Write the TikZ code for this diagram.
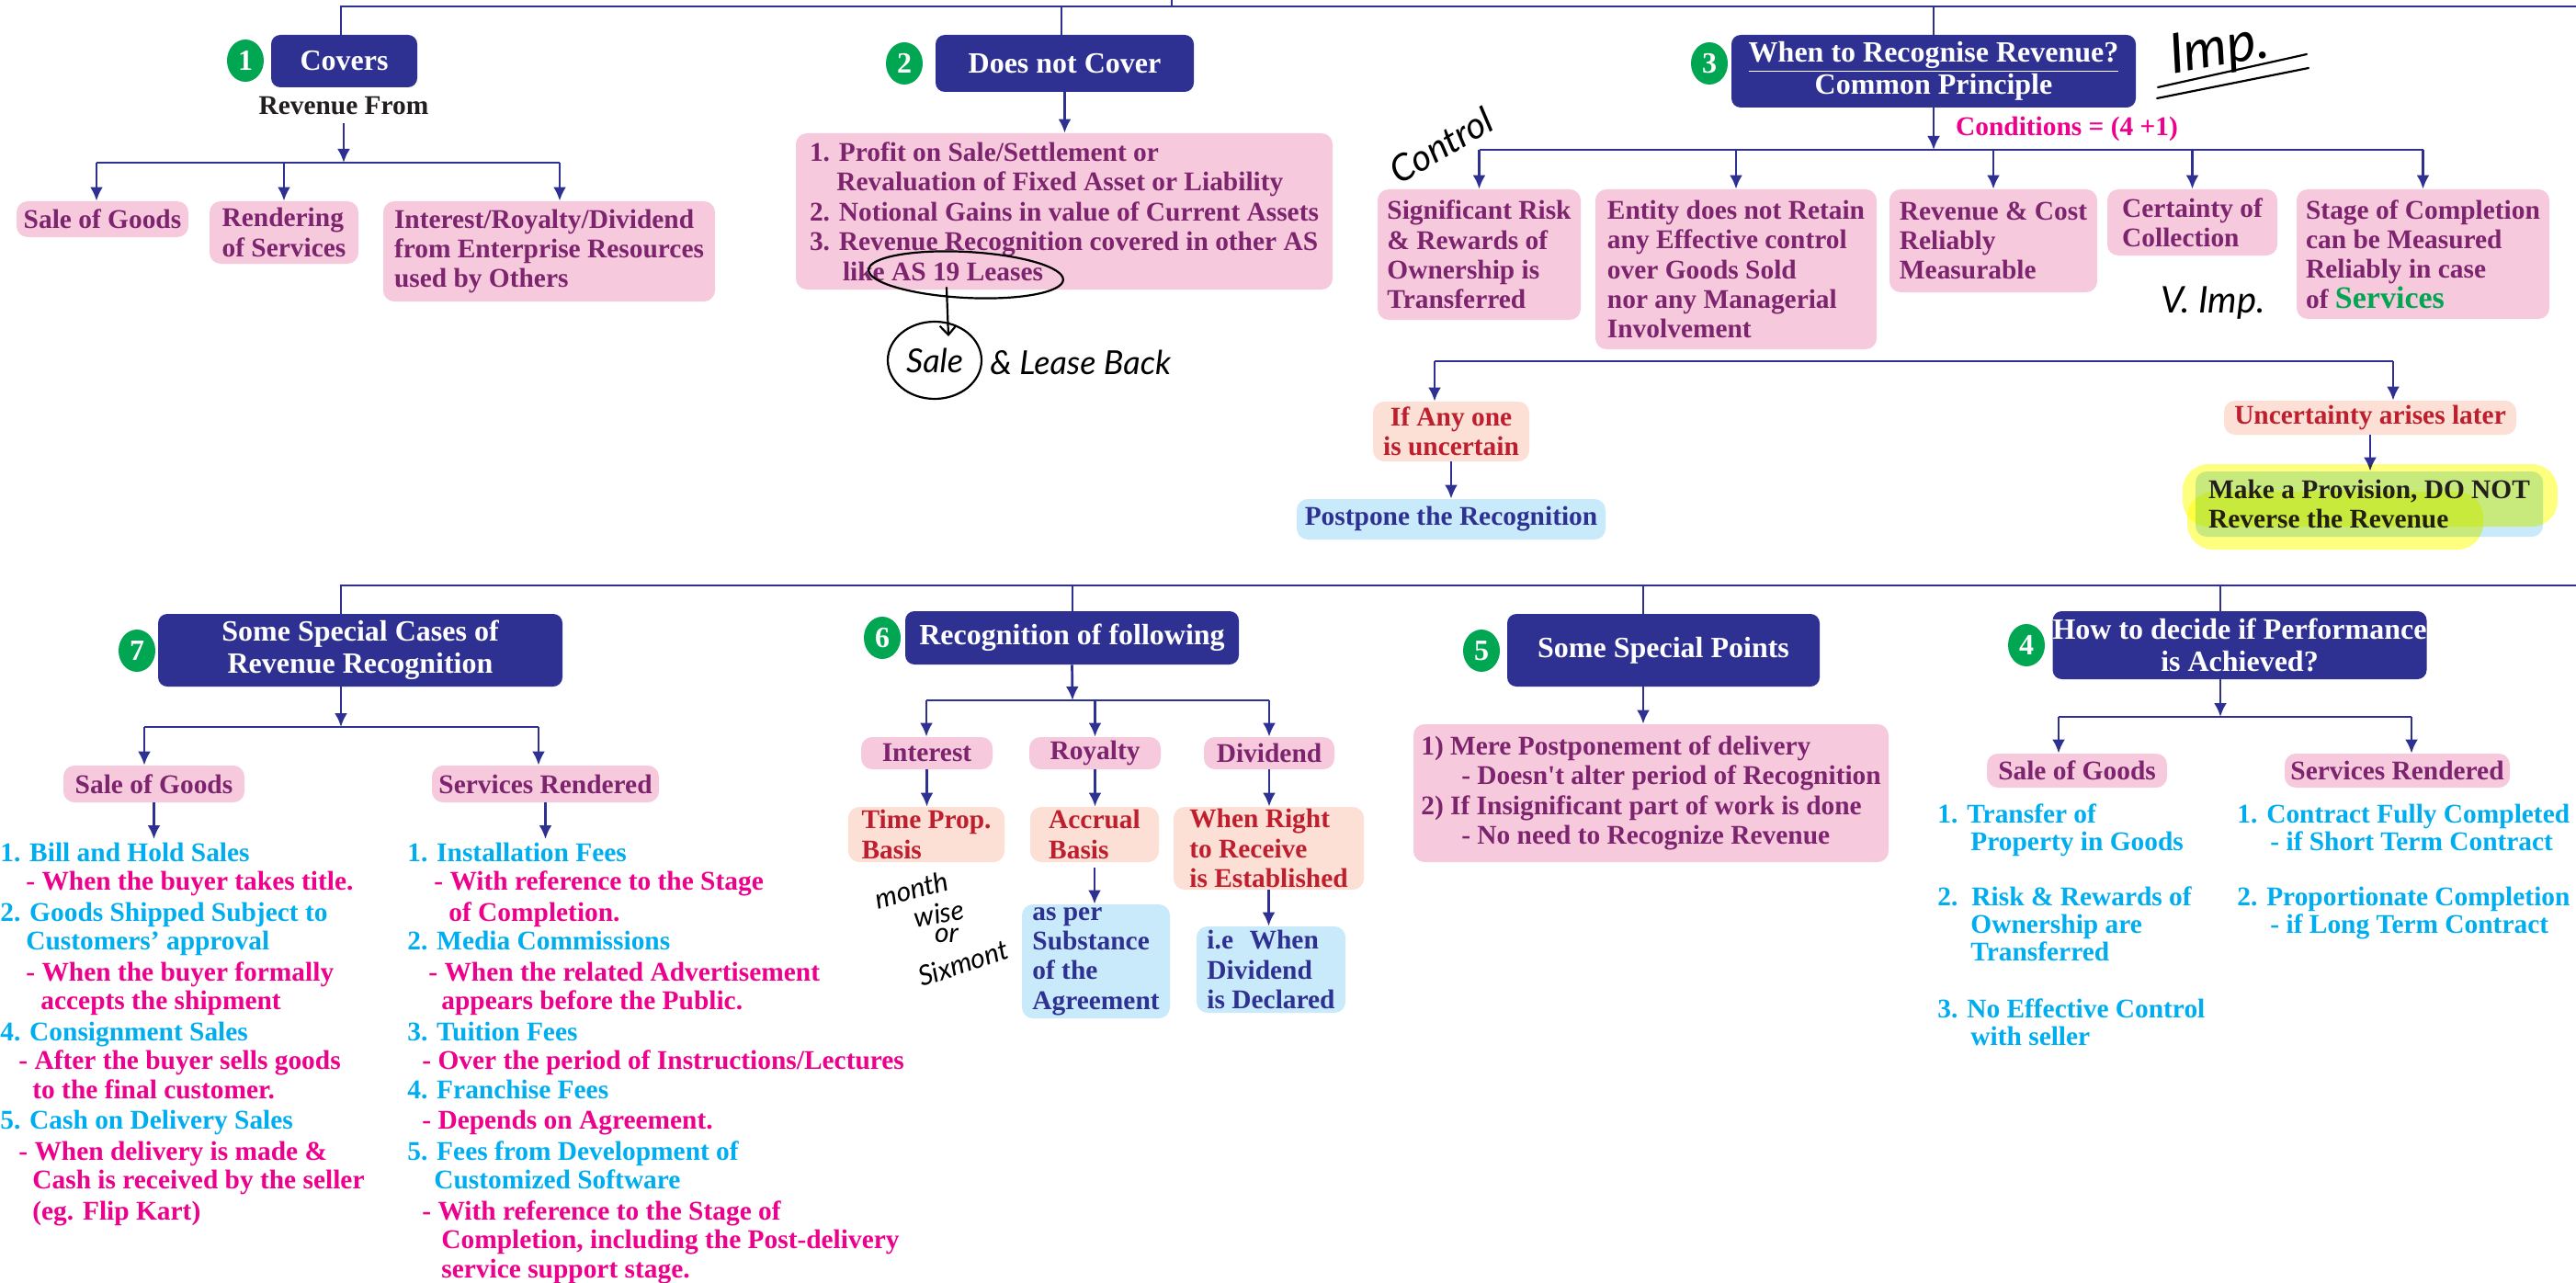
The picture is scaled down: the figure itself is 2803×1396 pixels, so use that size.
\documentclass[tikz,border=0pt]{standalone}
\usepackage{fontspec}
\setmainfont{Liberation Serif}
\newfontfamily\handfont{Lato}
\usetikzlibrary{shapes.geometric,arrows.meta,calc}

\definecolor{hdnavy}{RGB}{46,49,146}
\definecolor{badgegreen}{RGB}{0,166,81}
\definecolor{pinkfill}{RGB}{247,201,221}
\definecolor{pinktext}{RGB}{125,36,110}
\definecolor{salmonfill}{RGB}{252,223,213}
\definecolor{redtext}{RGB}{190,30,45}
\definecolor{bluefill}{RGB}{200,234,250}
\definecolor{cyantext}{RGB}{0,174,239}
\definecolor{magtext}{RGB}{236,0,140}
\definecolor{darktext}{RGB}{35,31,60}
\definecolor{nearblack}{RGB}{35,31,32}
\definecolor{hlyellow}{RGB}{255,255,0}

\tikzset{
  txt/.style={font=\bfseries\fontsize{14.7}{16.2}\selectfont, inner sep=0pt},
  hdbox/.style={txt, font=\bfseries\fontsize{16}{17.6}\selectfont, fill=hdnavy, text=white, rounded corners=5pt, align=center},
  pkbox/.style={txt, fill=pinkfill, text=pinktext, rounded corners=6pt, align=left},
  smbox/.style={txt, fill=salmonfill, text=redtext, rounded corners=6pt, align=left},
  blbox/.style={txt, fill=bluefill, text=hdnavy, rounded corners=6pt, align=left},
  numbadge/.style={ellipse, fill=badgegreen, text=white, inner sep=0pt, minimum width=20pt, minimum height=23pt, font=\bfseries\fontsize{16}{16}\selectfont},
  lnk/.style={draw=hdnavy, line width=1.35pt},
  flow/.style={lnk, -{Latex[length=7.5pt,width=7pt]}},
  lstline/.style={txt, anchor=base west},
  handtxt/.style={inner sep=0pt, text=black, font=\handfont\itshape\fontsize{#1}{#1}\selectfont},
  handtxt/.default=18,
  inkline/.style={draw=black, line width=1.1pt, line cap=round, line join=round},
  inkring/.style={ellipse, draw=black, line width=1.1pt, inner sep=0pt},
}

% box from its corners (x1,y1)-(x2,y2): name, style, x1, y1, x2, y2, text
\newcommand\mkbox[7]{%
  \pgfmathsetmacro\bxw{0.5*(#5-#3)}%
  \pgfmathsetmacro\bxh{0.5*(#6-#4)}%
  \node[#2, minimum width=\bxw pt, minimum height=\bxh pt] (#1) at ({(#3+#5)/2},{(#4+#6)/2}) {#7};%
}
% one line of a list: name, x, baseline y, colour, text
\newcommand\lstat[5]{\node[lstline, text=#4] (#1) at (#2,#3) {#5};}

\begin{document}
\begin{tikzpicture}[x=0.5pt,y=-0.5pt]
\useasboundingbox (0,0) rectangle (2803,1396);
\fill[white] (0,0) rectangle (2803,1396);

% ================= upper row =================
\coordinate (topL) at (371,7);
\coordinate (topR) at (2803,7);
\coordinate (topUp) at (1275,0);
\coordinate (top2) at (1155,7);
\coordinate (top3) at (2104,7);

% ---- 1: Covers ----
\mkbox{cov}{hdbox}{295}{38}{454}{95}{Covers}
\node[numbadge] (n1) at (267,66) {1};
\node[txt, text=nearblack, anchor=base] (revfrom) at (374,125) {Revenue From};
\coordinate (b1L) at (105,177);
\coordinate (b1R) at (609,177);
\mkbox{sg1}{pkbox}{18}{219}{205}{258}{Sale of Goods}
\mkbox{rs1}{pkbox}{228}{219}{390}{287}{Rendering\\of Services}
\mkbox{irs}{pkbox}{417}{219}{778}{328}{Interest/Royalty/Dividend\\from Enterprise Resources\\used by Others}

\draw[lnk] (topR) -- (topL) -- (topL |- cov.north);
\draw[lnk] (topUp) -- (topUp |- topL);
\draw[flow] ([yshift=-4pt]revfrom.south) -- (revfrom.south |- b1L);
\draw[lnk] (b1L) -- (b1R);
\draw[flow] (b1L) -- (b1L |- sg1.north);
\draw[flow] (rs1.north |- b1L) -- (rs1.north);
\draw[flow] (b1R) -- (b1R |- irs.north);

% ---- 2: Does not Cover ----
\mkbox{dnc}{hdbox}{1018}{38}{1299}{100}{Does not Cover}
\node[numbadge] (n2) at (984,69) {2};
\mkbox{nc}{pkbox}{866}{145}{1450}{315}{1. Profit on Sale/Settlement or\\\hspace*{14.7pt}Revaluation of Fixed Asset or Liability\\2. Notional Gains in value of Current Assets\\3. Revenue Recognition covered in other AS\\\hspace*{18pt}like AS 19 Leases}
\draw[lnk] (top2) -- (top2 |- dnc.north);
\draw[flow] (dnc.south) -- (dnc.south |- nc.north);

% hand notes on 2
\node[inkring, rotate=-3, minimum width=106pt, minimum height=25pt] (asring) at (1051,299) {};
\node[inkring, minimum width=51pt, minimum height=42pt] (salering) at (1017,392) {};
\node[handtxt=18] (saletxt) at (1017,392) {Sale};
\node[handtxt=18, anchor=base west] (leaseback) at (1077,407) {\& Lease Back};
\coordinate (asfoot) at (1030,313);
\coordinate (astip) at (1032,366);
\draw[inkline, -{Straight Barb[length=5pt,width=9pt]}] (asfoot) -- (astip);

% ---- 3: When to recognise ----
\mkbox{wtr}{hdbox}{1884}{38}{2324}{117}{\underline{When to Recognise Revenue?}\\Common Principle}
\node[numbadge] (n3) at (1860,69) {3};
\draw[lnk] (top3) -- (top3 |- wtr.north);
\coordinate (b3) at (2104,163);
\node[txt, text=magtext, anchor=base] (cond) at (2249,148) {Conditions = (4 +1)};
\mkbox{c1}{pkbox}{1499}{206}{1720}{348}{Significant Risk\\\& Rewards of\\Ownership is\\Transferred}
\mkbox{c2}{pkbox}{1736}{206}{2042}{380}{Entity does not Retain\\any Effective control\\over Goods Sold\\nor any Managerial\\Involvement}
\mkbox{c3}{pkbox}{2056}{206}{2282}{318}{Revenue \& Cost\\Reliably\\Measurable}
\mkbox{c4}{pkbox}{2293}{206}{2478}{278}{Certainty of\\Collection}
\mkbox{c5}{pkbox}{2499}{206}{2774}{347}{Stage of Completion\\can be Measured\\Reliably in case\\of {\color{badgegreen}\fontsize{17}{16.2}\selectfont Services}}
\draw[flow] (wtr.south) -- (b3);
\draw[lnk] (c1.north |- b3) -- (c5.north |- b3);
\foreach \c in {c1,c2,c3,c4,c5} \draw[flow] (\c.north |- b3) -- (\c.north);

% hand notes on 3
\node[handtxt=20, rotate=30] (ctrl) at (1568,158) {Control};
\node[handtxt=30, rotate=10] (imp) at (2415,55) {Imp.};
\draw[inkline] (2348,95) -- (2510,59);
\draw[inkline] (2347,107) -- (2512,74);
\node[handtxt=20] (vimp) at (2408,330) {V. Imp.};

% uncertainty branch
\coordinate (u1) at (1561,393);
\coordinate (u2) at (2604,393);
\mkbox{ifany}{smbox, align=center}{1494}{437}{1664}{502}{If Any one\\is uncertain}
\mkbox{unc}{smbox}{2420}{436}{2738}{473}{Uncertainty arises later}
\mkbox{post}{blbox}{1411}{543}{1747}{587}{Postpone the Recognition}
\mkbox{prov}{blbox, text=darktext}{2389}{513}{2767}{584}{Make a Provision, DO NOT\\Reverse the Revenue}
\draw[lnk] (u1) -- (u2);
\draw[flow] (u1) -- (u1 |- ifany.north);
\draw[flow] (u2) -- (u2 |- unc.north);
\draw[flow] (ifany.south) -- (post.north);
\draw[flow] (unc.south) -- (unc.south |- prov.north);
% highlighter strokes
\fill[hlyellow, opacity=0.5, blend mode=multiply, rounded corners=14pt] (2375,505) rectangle (2783,573);
\fill[hlyellow, opacity=0.5, blend mode=multiply, rounded corners=14pt] (2380,535) rectangle (2702,598);

% ================= lower row =================
\coordinate (botL) at (371,637);
\coordinate (botR) at (2803,637);
\coordinate (d6) at (1167,637);
\coordinate (d5) at (1788,637);
\coordinate (d4) at (2416,637);

% ---- 7: Special cases ----
\mkbox{ssc}{hdbox}{172}{668}{612}{747}{Some Special Cases of\\Revenue Recognition}
\node[numbadge] (n7) at (149,708) {7};
\coordinate (b7L) at (157,791);
\coordinate (b7R) at (586,791);
\mkbox{sg7}{pkbox}{69}{833}{266}{873}{Sale of Goods}
\mkbox{sr7}{pkbox}{470}{833}{717}{873}{Services Rendered}
\coordinate (l7a) at (167,913);
\coordinate (l7b) at (593,913);
\draw[lnk] (botR) -- (botL) -- (botL |- ssc.north);
\draw[flow] (botL |- ssc.south) -- (botL |- b7L);
\draw[lnk] (b7L) -- (b7R);
\draw[flow] (b7L) -- (b7L |- sg7.north);
\draw[flow] (b7R) -- (b7R |- sr7.north);
\draw[flow] (sg7.south) -- (sg7.south |- l7a);
\draw[flow] (sr7.south) -- (sr7.south |- l7b);

\lstat{g1}{0}{937}{cyantext}{1. Bill and Hold Sales}
\lstat{g2}{28}{968}{magtext}{- When the buyer takes title.}
\lstat{g3}{0}{1002}{cyantext}{2. Goods Shipped Subject to}
\lstat{g4}{28}{1033}{cyantext}{Customers’ approval}
\lstat{g5}{28}{1067}{magtext}{- When the buyer formally}
\lstat{g6}{44}{1098}{magtext}{accepts the shipment}
\lstat{g7}{0}{1132}{cyantext}{4. Consignment Sales}
\lstat{g8}{20}{1163}{magtext}{- After the buyer sells goods}
\lstat{g9}{35}{1195}{magtext}{to the final customer.}
\lstat{g10}{0}{1228}{cyantext}{5. Cash on Delivery Sales}
\lstat{g11}{20}{1262}{magtext}{- When delivery is made \&}
\lstat{g12}{35}{1293}{magtext}{Cash is received by the seller}
\lstat{g13}{35}{1327}{magtext}{(eg. Flip Kart)}

\lstat{s1}{443}{937}{cyantext}{1. Installation Fees}
\lstat{s2}{472}{968}{magtext}{- With reference to the Stage}
\lstat{s3}{488}{1002}{magtext}{of Completion.}
\lstat{s4}{443}{1033}{cyantext}{2. Media Commissions}
\lstat{s5}{466}{1067}{magtext}{- When the related Advertisement}
\lstat{s6}{480}{1098}{magtext}{appears before the Public.}
\lstat{s7}{443}{1132}{cyantext}{3. Tuition Fees}
\lstat{s8}{459}{1163}{magtext}{- Over the period of Instructions/Lectures}
\lstat{s9}{443}{1195}{cyantext}{4. Franchise Fees}
\lstat{s10}{459}{1228}{magtext}{- Depends on Agreement.}
\lstat{s11}{443}{1262}{cyantext}{5. Fees from Development of}
\lstat{s12}{472}{1293}{cyantext}{Customized Software}
\lstat{s13}{459}{1327}{magtext}{- With reference to the Stage of}
\lstat{s14}{480}{1358}{magtext}{Completion, including the Post-delivery}
\lstat{s15}{480}{1390}{magtext}{service support stage.}

% ---- 6: Recognition of following ----
\mkbox{rof}{hdbox}{985}{665}{1348}{723}{Recognition of following}
\node[numbadge] (n6) at (960,694) {6};
\coordinate (b6) at (1167,762);
\coordinate (b6L) at (1008,762);
\coordinate (b6R) at (1381,762);
\mkbox{int6}{pkbox, align=center}{937}{802}{1080}{837}{Interest}
\mkbox{roy6}{pkbox, align=center}{1120}{802}{1263}{837}{Royalty}
\mkbox{div6}{pkbox, align=center}{1310}{802}{1452}{837}{Dividend}
\mkbox{tpb}{smbox}{923}{878}{1093}{938}{Time Prop.\\Basis}
\mkbox{acb}{smbox}{1121}{878}{1261}{938}{Accrual\\Basis}
\mkbox{wrr}{smbox}{1277}{878}{1484}{968}{When Right\\to Receive\\is Established}
\mkbox{aps}{blbox}{1112}{984}{1273}{1108}{as per\\Substance\\of the\\Agreement}
\mkbox{wdd}{blbox}{1302}{1008}{1464}{1102}{i.e\hspace{0.6em}When\\Dividend\\is Declared}
\draw[lnk] (d6) -- (d6 |- rof.north);
\draw[flow] (rof.south) -- (b6);
\draw[lnk] (b6L) -- (b6R);
\draw[flow] (b6L) -- (b6L |- int6.north);
\draw[flow] (roy6.north |- b6) -- (roy6.north);
\draw[flow] (b6R) -- (b6R |- div6.north);
\draw[flow] (int6.south) -- (int6.south |- tpb.north);
\draw[flow] (roy6.south) -- (roy6.south |- acb.north);
\draw[flow] (div6.south) -- (div6.south |- wrr.north);
\draw[flow] ([yshift=-3pt]acb.south) -- (acb.south |- aps.north);
\draw[flow] (wrr.south) -- (wrr.south |- wdd.north);

% hand note on 6
\node[handtxt=15, rotate=15] (mw1) at (992,968) {month};
\node[handtxt=15, rotate=10] (mw2) at (1022,994) {wise};
\node[handtxt=15] (mw3) at (1030,1018) {or};
\node[handtxt=15, rotate=18] (mw4) at (1048,1048) {Sixmont};

% ---- 5: Special points ----
\mkbox{ssp}{hdbox}{1640}{668}{1980}{747}{Some Special Points}
\node[numbadge] (n5) at (1612,708) {5};
\mkbox{sp5}{pkbox}{1538}{788}{2055}{938}{1) Mere Postponement of delivery\\\hspace*{22pt}- Doesn\textquotesingle t alter period of Recognition\\2) If Insignificant part of work is done\\\hspace*{22pt}- No need to Recognize Revenue}
\draw[lnk] (d5) -- (d5 |- ssp.north);
\draw[flow] (d5 |- ssp.south) -- (d5 |- sp5.north);

% ---- 4: Performance ----
\mkbox{hdp}{hdbox}{2234}{665}{2640}{739}{How to decide if Performance\\is Achieved?}
\node[numbadge] (n4) at (2205,702) {4};
\coordinate (b4L) at (2240,780);
\coordinate (b4R) at (2624,780);
\mkbox{sg4}{pkbox}{2162}{820}{2358}{857}{Sale of Goods}
\mkbox{sr4}{pkbox}{2486}{820}{2731}{857}{Services Rendered}
\draw[lnk] (d4) -- (d4 |- hdp.north);
\draw[flow] (d4 |- hdp.south) -- (d4 |- b4L);
\draw[lnk] (b4L) -- (b4R);
\draw[flow] (b4L) -- (b4L |- sg4.north);
\draw[flow] (b4R) -- (b4R |- sr4.north);

\lstat{p1}{2108}{895}{cyantext}{1. Transfer of}
\lstat{p2}{2144}{925}{cyantext}{Property in Goods}
\lstat{p3}{2108}{985}{cyantext}{2.\hspace{7.5pt}Risk \& Rewards of}
\lstat{p4}{2144}{1015}{cyantext}{Ownership are}
\lstat{p5}{2144}{1045}{cyantext}{Transferred}
\lstat{p6}{2108}{1107}{cyantext}{3. No Effective Control}
\lstat{p7}{2144}{1137}{cyantext}{with seller}

\lstat{q1}{2434}{895}{cyantext}{1. Contract Fully Completed}
\lstat{q2}{2470}{925}{cyantext}{- if Short Term Contract}
\lstat{q3}{2434}{985}{cyantext}{2. Proportionate Completion}
\lstat{q4}{2470}{1015}{cyantext}{- if Long Term Contract}

\end{tikzpicture}
\end{document}
